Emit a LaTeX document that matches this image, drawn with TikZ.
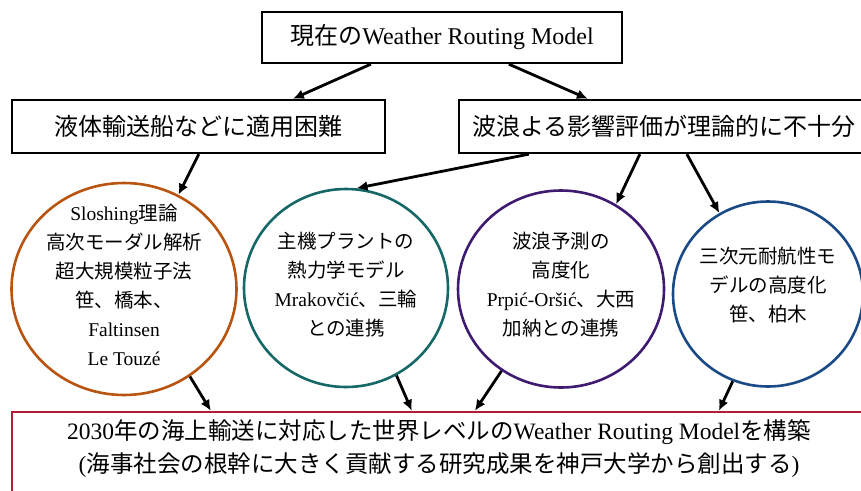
\documentclass[tikz,border=0pt]{standalone}
\usepackage{fontspec}
\setmainfont{Liberation Serif}
\newfontfamily\jpfont{Noto Sans CJK JP}
\newcommand\J[1]{{\jpfont #1}}
\newcommand\dn[1]{\rule[-#1]{0pt}{0pt}}
\usetikzlibrary{arrows.meta,shapes.geometric}
\definecolor{cOrange}{RGB}{184,84,16}
\definecolor{cTeal}{RGB}{22,104,104}
\definecolor{cPurple}{RGB}{62,26,112}
\definecolor{cBlue}{RGB}{26,74,134}
\definecolor{cRed}{RGB}{178,30,52}
\begin{document}
\begin{tikzpicture}[x=1pt,y=-1pt,
  box/.style={draw=black, line width=2.3pt, rectangle, inner sep=0pt, font=\fontsize{24}{28}\selectfont},
  bubble/.style={ellipse, line width=2.6pt, inner xsep=-12pt, inner ysep=-30pt, align=center, font=\fontsize{19.5}{29}\selectfont},
  arr/.style={line width=2.8pt, -{Latex[length=11pt,width=10pt]}},
]
\useasboundingbox (0,0) rectangle (861,490);
\clip (0,0) rectangle (861,490);
% boxes
\node[box, minimum width=360pt, minimum height=51pt] (top) at (442,37.5) {\J{現在の}Weather Routing Model};
\node[box, minimum width=373pt, minimum height=53pt] (lbox) at (198.5,126.5) {\J{液体輸送船などに適用困難}};
\node[box, minimum width=410pt, minimum height=53pt] (rbox) at (664,126.5) {\J{波浪よる影響評価が理論的に不十分}};
\node[draw=cRed, line width=2.3pt, rectangle, inner sep=0pt, minimum width=854pt, minimum height=82pt, align=center, font=\fontsize{23.5}{33}\selectfont] (goal) at (439,453)
  {2030\J{年の海上輸送に対応した世界レベルの}Weather Routing Model\J{を構築}\\(\J{海事社会の根幹に大きく貢献する研究成果を神戸大学から創出する})\dn{14pt}};
% bubbles
\node[bubble, draw=cOrange, minimum width=225pt, minimum height=212pt] (c1) at (124,289)
  {Sloshing\J{理論}\\\J{高次モーダル解析}\\\J{超大規模粒子法}\\\J{笹、橋本、}\\Faltinsen\\Le Touzé\dn{8pt}};
\node[bubble, draw=cTeal, minimum width=204pt, minimum height=198pt] (c2) at (346,288)
  {\J{主機プラントの}\\\J{熱力学モデル}\\Mrakovčić\J{、三輪}\\\J{との連携}\dn{8.5pt}};
\node[bubble, draw=cPurple, minimum width=206pt, minimum height=197pt] (c3) at (561,289)
  {\J{波浪予測の}\\\J{高度化}\\Prpić-Oršić\J{、大西}\\\J{加納との連携}\dn{10.5pt}};
\node[bubble, draw=cBlue, minimum width=190pt, minimum height=185pt] (c4) at (768,294)
  {\J{三次元耐航性モ}\\\J{デルの高度化}\\\J{笹、柏木}\dn{20pt}};
% arrows
\draw[arr] ([xshift=110pt]top.south west) -- ([xshift=282pt]lbox.north west);
\draw[arr] ([xshift=248pt]top.south west) -- ([xshift=130pt]rbox.north west);
\draw[arr] ([xshift=188pt]lbox.south west) -- (c1.60);
\draw[arr] ([xshift=71pt]rbox.south west) -- (c2.84);
\draw[arr] ([xshift=182pt]rbox.south west) -- (c3.57);
\draw[arr] ([xshift=229pt]rbox.south west) -- (c4.121);
\draw[arr] (c1.-53) -- ([xshift=200pt]goal.north west);
\draw[arr] (c2.-60) -- ([xshift=401pt]goal.north west);
\draw[arr] (c3.-126) -- ([xshift=464pt]goal.north west);
\draw[arr] (c4.-112) -- ([xshift=708pt]goal.north west);
\end{tikzpicture}
\end{document}
